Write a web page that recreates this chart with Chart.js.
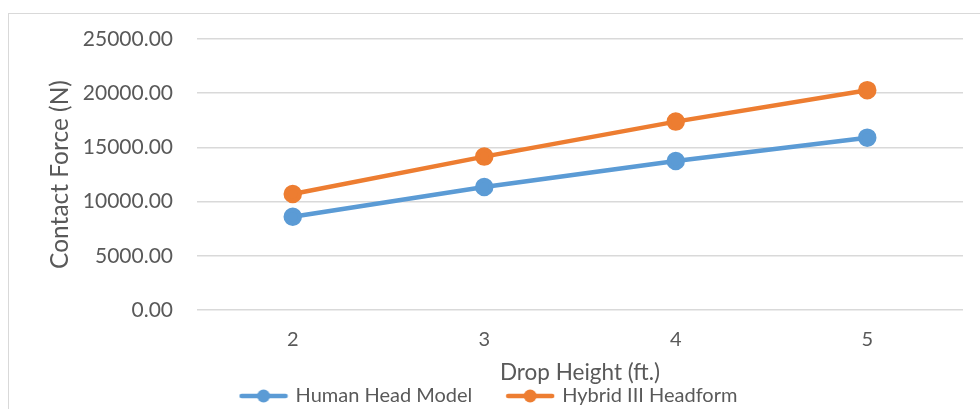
<!DOCTYPE html>
<html>
<head>
<meta charset="utf-8">
<script src="https://cdn.jsdelivr.net/npm/chart.js@4/dist/chart.umd.min.js"></script>
<style>
  html, body { margin: 0; padding: 0; background: #fff; }
  #wrap { position: relative; width: 980px; height: 409px; overflow: hidden; }
  #frame { position: absolute; left: 8px; top: 13px; width: 990px; height: 420px; border: 1px solid #d9d9d9; box-sizing: border-box; }
  canvas { position: absolute; left: 0; top: 0; }
</style>
</head>
<body>
<div id="wrap">
  <div id="frame"></div>
  <canvas id="forceChart" width="980" height="409"></canvas>
</div>
<script>
// drop heights (ft.) and contact forces (N)
const heights = ['2', '3', '4', '5'];
const humanHead = [8600, 11350, 13750, 15900];
const hybridIII = [10700, 14150, 17380, 20280];
const seriesNames = ['Human Head Model', 'Hybrid III Headform'];
const seriesColors = ['#5B9BD5', '#ED7D31'];

const textColor = '#595959';
const fontFamily = 'Lato, "Open Sans", sans-serif';

// legend marker: short line with a dot
function legendIcon(color) {
    const c = document.createElement('canvas');
    c.width = 50; c.height = 16;
    const g = c.getContext('2d');
    g.strokeStyle = color;
    g.lineWidth = 4.5;
    g.lineCap = 'round';
    g.beginPath(); g.moveTo(3, 8); g.lineTo(47, 8); g.stroke();
    g.fillStyle = color;
    g.beginPath(); g.arc(25, 8, 6.5, 0, Math.PI * 2); g.fill();
    return c;
}

const ctx = document.getElementById('forceChart');
window.forceChart = new Chart(ctx, {
    type: 'line',
    data: {
        labels: heights,
        datasets: [
            {label: seriesNames[0], data: humanHead, borderColor: seriesColors[0], backgroundColor: seriesColors[0],
             borderWidth: 4.5, pointRadius: 7, pointHoverRadius: 7},
            {label: seriesNames[1], data: hybridIII, borderColor: seriesColors[1], backgroundColor: seriesColors[1],
             borderWidth: 4.5, pointRadius: 7, pointHoverRadius: 7}
        ]
    },
    options: {
        responsive: false,
        animation: false,
        layout: {padding: {left: 16, right: 17, top: 39, bottom: -7}},
        elements: {
            line: {tension: 0},
            point: {pointStyle: 'circle'}
        },
        plugins: {
            tooltip: {enabled: false},
            legend: {
                position: 'bottom',
                labels: {
                    color: textColor,
                    font: {family: fontFamily, size: 20},
                    usePointStyle: true,
                    pointStyleWidth: 44,
                    padding: 0,
                    // trailing spaces keep the gap between the two legend items
                    generateLabels: chart => chart.data.datasets.map((ds, i) => ({
                        text: i === 0 ? ds.label + '       ' : ds.label,
                        fillStyle: ds.borderColor,
                        strokeStyle: ds.borderColor,
                        fontColor: textColor,
                        lineWidth: 0,
                        pointStyle: legendIcon(ds.borderColor),
                        datasetIndex: i
                    }))
                }
            }
        },
        scales: {
            x: {
                offset: true,
                grid: {display: false, drawTicks: false},
                border: {display: false},
                ticks: {color: textColor, font: {family: fontFamily, size: 20}, padding: 18},
                title: {display: true, text: 'Drop Height (ft.)', color: textColor,
                        font: {family: fontFamily, size: 22.5}, padding: {top: 4, bottom: 0}},
                afterFit: s => { s.height = 76; }
            },
            y: {
                min: 0, max: 25000,
                grid: {color: '#d9d9d9', lineWidth: 1.5, drawTicks: false},
                border: {display: false},
                ticks: {stepSize: 5000, color: textColor, font: {family: fontFamily, size: 21}, padding: 24,
                        callback: v => v.toFixed(2)},
                title: {display: true, text: 'Contact Force (N)', color: textColor,
                        font: {family: fontFamily, size: 24.5}, padding: {top: 29, bottom: 0}},
                afterFit: s => { s.width = 181; }
            }
        }
    }
});
</script>
</body>
</html>
